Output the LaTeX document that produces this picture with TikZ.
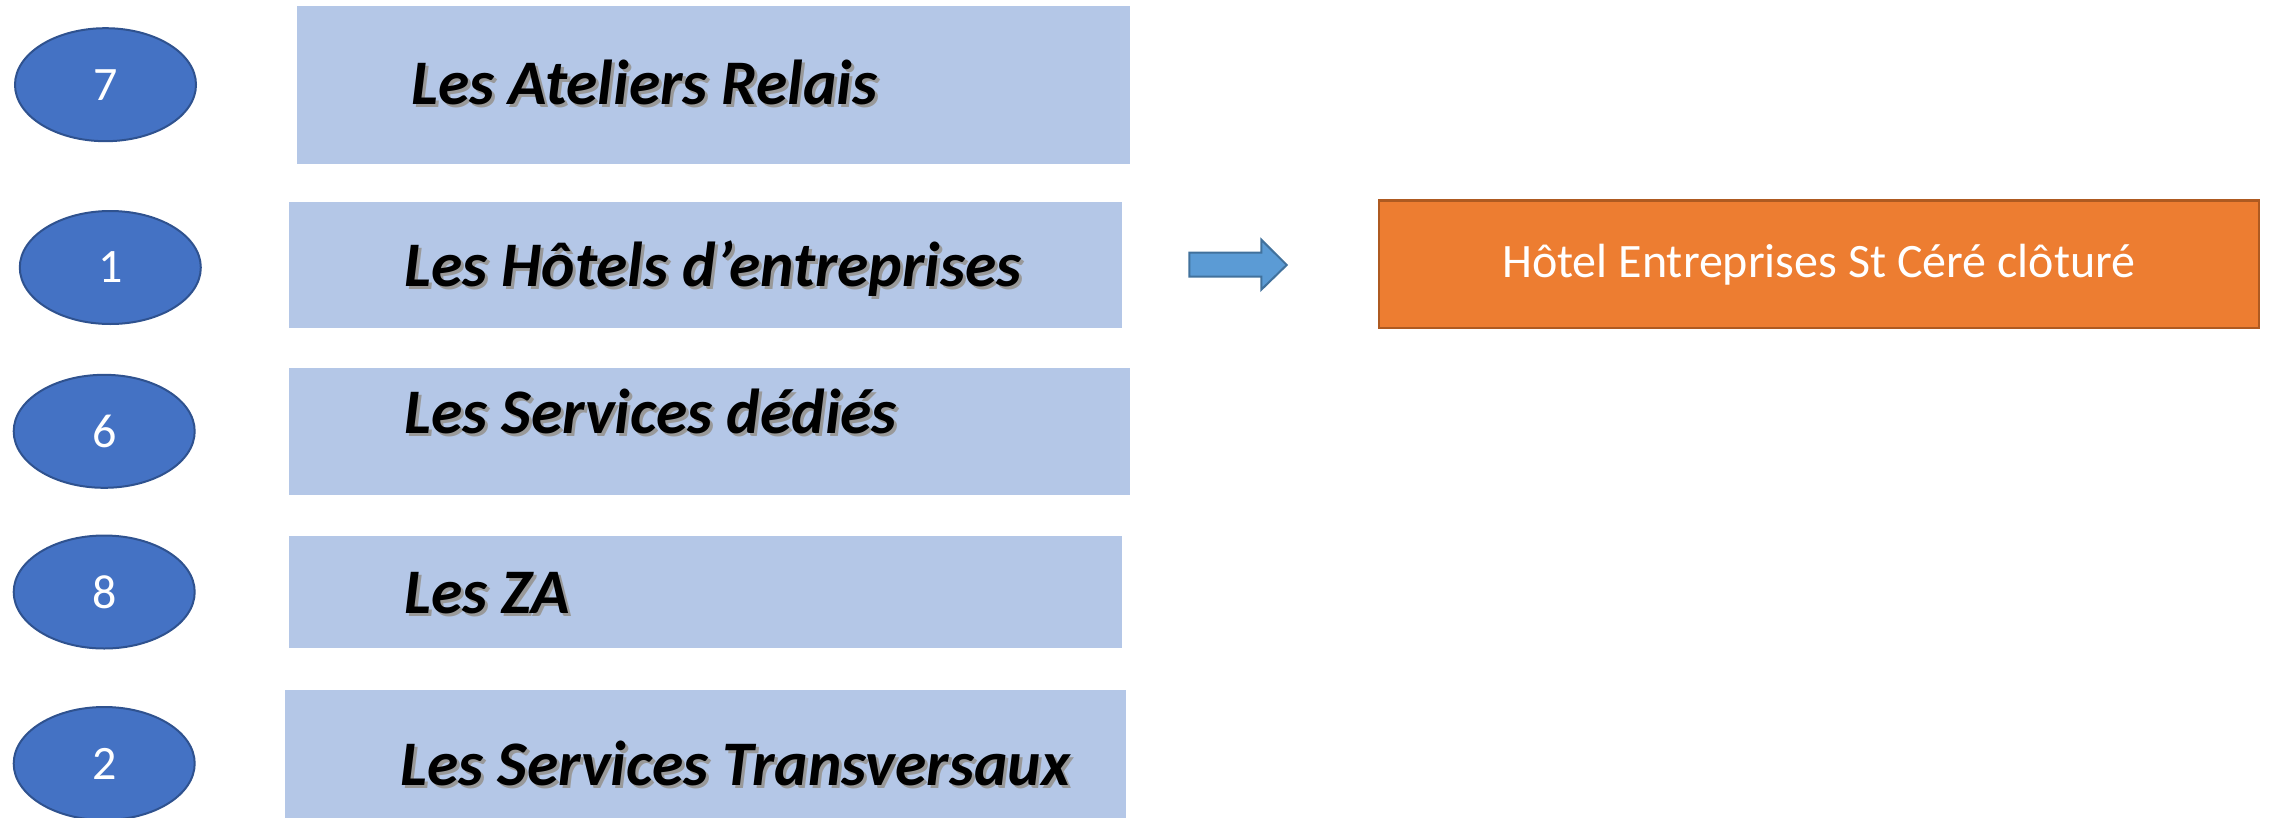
\documentclass[tikz,border=0pt]{standalone}
\usepackage{fontspec}
\setmainfont{Carlito}
\usetikzlibrary{shapes.geometric}
\definecolor{boxblue}{HTML}{B4C7E7}
\definecolor{ellfill}{HTML}{4472C4}
\definecolor{elldraw}{HTML}{2F528F}
\definecolor{arrfill}{HTML}{5B9BD5}
\definecolor{arrdraw}{HTML}{41719C}
\definecolor{orfill}{HTML}{ED7D31}
\definecolor{ordraw}{HTML}{AE5A21}
\tikzset{
  x=1pt, y=-1pt,
  numell/.style={ellipse, fill=ellfill, draw=elldraw, line width=2pt,
    minimum width=181pt, minimum height=113pt, inner sep=0pt,
    text=white, font=\fontsize{48}{56}\selectfont},
  bluebox/.style={rectangle, fill=boxblue, draw=none, inner sep=0pt, anchor=north west},
  lbl/.style={anchor=base west, inner sep=0pt, font=\fontsize{63.5}{72}\selectfont\bfseries\itshape},
  lblshadow/.style={lbl, text=black!40},
  orbox/.style={rectangle, fill=orfill, draw=ordraw, line width=2.2pt, inner sep=0pt,
    minimum width=880pt, minimum height=127.5pt, text=white,
    font=\fontsize{48}{56}\selectfont},
}
\newcommand{\shlabel}[3]{%
  \node[lblshadow] (#1s) at ([xshift=3pt,yshift=-3pt]#2) {#3};%
  \node[lbl] (#1) at (#2) {#3};}
\begin{document}
\begin{tikzpicture}
\useasboundingbox (0,0) rectangle (2273,817);
% blue boxes
\node[bluebox, minimum width=833pt, minimum height=157.7pt] (b1) at (297,6) {};
\node[bluebox, minimum width=833pt, minimum height=125.7pt] (b2) at (289,202) {};
\node[bluebox, minimum width=841pt, minimum height=126.7pt] (b3) at (289,368) {};
\node[bluebox, minimum width=833pt, minimum height=111.7pt] (b4) at (289,536) {};
\node[bluebox, minimum width=841pt, minimum height=135pt] (b5) at (285,690) {};
% labels
\shlabel{l1}{411,104}{Les Ateliers Relais}
\shlabel{l2}{404,286}{Les Hôtels d’entreprises}
\shlabel{l3}{404,433.3}{Les Services dédiés}
\shlabel{l4}{404,613.3}{Les ZA}
\shlabel{l5}{400,785}{Les Services Transversaux}
% ellipses
\node[numell] (e7) at (105.5,84.7) {7};
\node[numell] (e1) at (110.3,267.5) {1};
\node[numell] (e6) at (104.2,431.3) {6};
\node[numell] (e8) at (104.2,592) {8};
\node[numell] (e2) at (104.2,763.5) {2};
% block arrow
\draw[fill=arrfill, draw=arrdraw, line width=2pt, line join=miter]
  (1189.3,252.7) -- (1261.3,252.7) -- (1261.3,239.7) -- (1286.7,265)
  -- (1261.3,289.7) -- (1261.3,276.7) -- (1189.3,276.7) -- cycle;
% orange box
\node[orbox] (o1) at (1818.8,264.3) {Hôtel Entreprises St Céré clôturé};
\end{tikzpicture}
\end{document}
